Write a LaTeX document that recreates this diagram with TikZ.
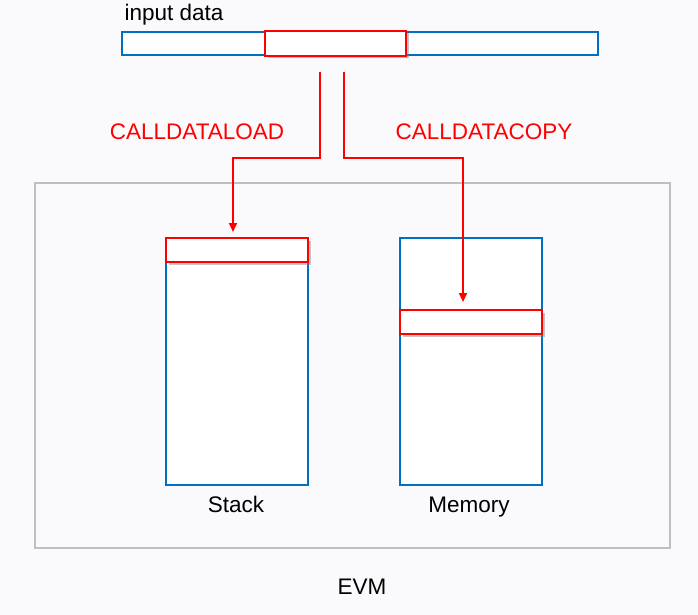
\documentclass[tikz,border=0pt]{standalone}
\usepackage{fontspec}
\setmainfont{Liberation Sans}
\usetikzlibrary{arrows.meta,shadows}
\definecolor{memblue}{RGB}{0,112,192}
\definecolor{evmgray}{RGB}{191,191,191}
\definecolor{bgc}{RGB}{250,250,253}

\begin{document}
\begin{tikzpicture}[x=1pt,y=-1pt,
  cell/.style={draw=memblue,line width=2pt,fill=white,inner sep=0pt},
  slice/.style={draw=red,line width=2.2pt,fill=white,inner sep=0pt,
    drop shadow={shadow xshift=2.5pt,shadow yshift=-2.5pt,opacity=0.45,fill=gray}},
  feed/.style={draw=red,line width=2pt,-{Triangle[width=8pt,length=9pt]}},
  lbl/.style={font=\fontsize{22.5}{26}\selectfont}]
\path[use as bounding box,fill=bgc] (0,0) rectangle (698,615);

% calldata
\path (121,15) node (inlbl) [lbl,anchor=west] {input data};
\path (360,43.5) node (input) [cell,minimum width=476pt,minimum height=23pt] {};
\path (335.5,43.5) node (part) [slice,minimum width=141pt,minimum height=25pt] {};

% evm
\path (352.5,365.5) node (evm) [draw=evmgray,line width=2pt,fill=bgc,minimum width=635pt,minimum height=365pt] {};
\path (362,594) node (evmlbl) [lbl,anchor=base] {EVM};

\path (237,361.5) node (stack) [cell,minimum width=142pt,minimum height=247pt] {};
\path (237,250) node (stacktop) [slice,minimum width=142pt,minimum height=24pt] {};
\path (236,512) node (stacklbl) [lbl,anchor=base] {Stack};

\path (471,361.5) node (mem) [cell,minimum width=142pt,minimum height=247pt] {};
\path (471,322) node (memslot) [slice,minimum width=142pt,minimum height=24pt] {};
\path (469,512) node (memlbl) [lbl,anchor=base] {Memory};

% opcodes
\coordinate (outL) at (320,72);
\coordinate (outR) at (344,72);
\coordinate (inL) at (233,232);
\coordinate (inR) at (463,302);
\draw [feed] (outL) -- (320,158) -| (inL);
\draw [feed] (outR) -- (344,158) -| (inR);
\path (197,132) node (ldlbl) [lbl,text=red] {CALLDATALOAD};
\path (484,132) node (cplbl) [lbl,text=red] {CALLDATACOPY};

\end{tikzpicture}
\end{document}
